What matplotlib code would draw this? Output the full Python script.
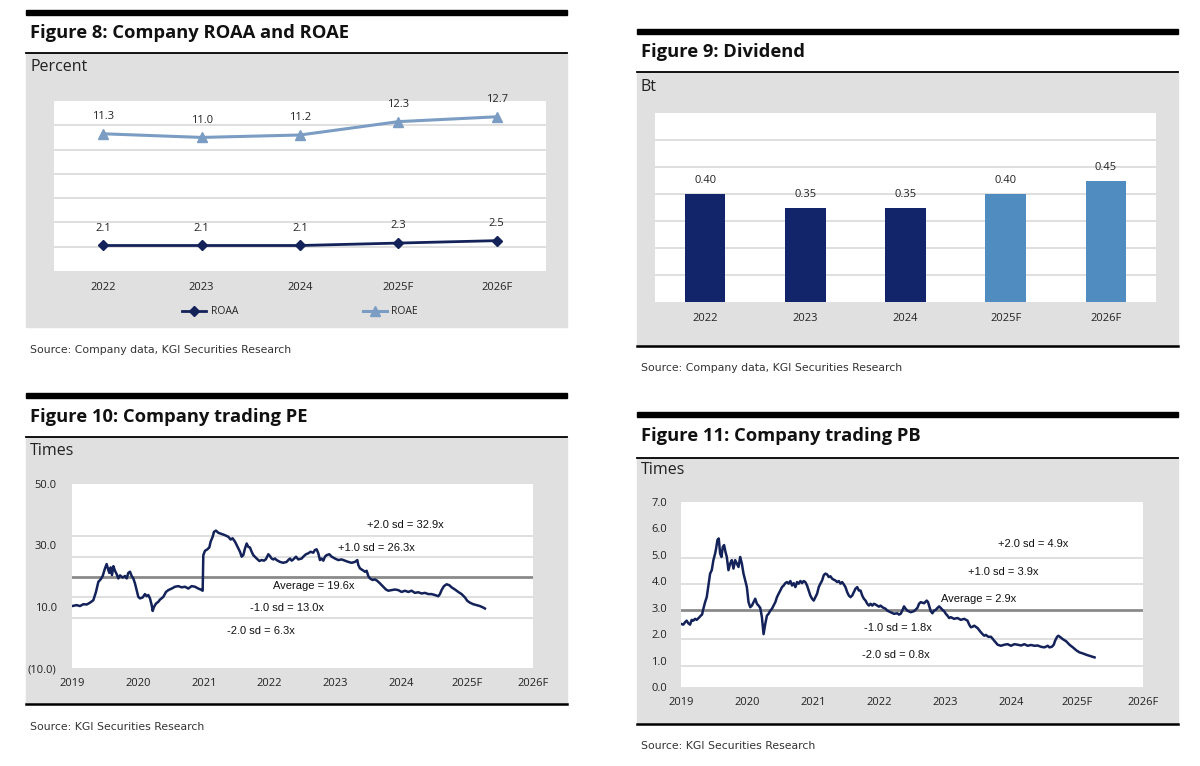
import matplotlib
matplotlib.use('Agg')
import matplotlib.pyplot as plt
from matplotlib.patches import Rectangle
from matplotlib.lines import Line2D
import numpy as np

# ---------------- data ----------------
roa_years = ['2022', '2023', '2024', '2025F', '2026F']
roaa = [2.1, 2.1, 2.1, 2.3, 2.5]
roae = [11.3, 11.0, 11.2, 12.3, 12.7]

div_years = ['2022', '2023', '2024', '2025F', '2026F']
dividend = [0.40, 0.35, 0.35, 0.40, 0.45]
div_is_forecast = [False, False, False, True, True]

band_ticks = [2019, 2020, 2021, 2022, 2023, 2024, 2025, 2026]
band_tick_labels = ['2019', '2020', '2021', '2022', '2023', '2024', '2025F', '2026F']

sd_names = ['+2.0 sd', '+1.0 sd', 'Average', '-1.0 sd', '-2.0 sd']
pe_sd_values = [32.9, 26.3, 19.6, 13.0, 6.3]
pb_sd_values = [4.9, 3.9, 2.9, 1.8, 0.8]

pe_ticks = [50, 30, 10, -10]
pe_tick_labels = ['50.0', '30.0', '10.0', '(10.0)']
pb_ticks = [0, 1, 2, 3, 4, 5, 6, 7]
pb_tick_labels = ['0.0', '1.0', '2.0', '3.0', '4.0', '5.0', '6.0', '7.0']

# PE band: years since start of 2019, trailing PE (x)
pe_t = [0.000, 0.071, 0.121, 0.172, 0.223, 0.273, 0.324, 0.364, 0.400, 0.435,
        0.466, 0.501, 0.526, 0.552, 0.567, 0.587, 0.607, 0.628, 0.653, 0.678,
        0.703, 0.729, 0.769, 0.805, 0.830, 0.855, 0.881, 0.906, 0.931, 0.956,
        0.982, 1.007, 1.032, 1.073, 1.108, 1.134, 1.159, 1.184, 1.210, 1.225,
        1.245, 1.275, 1.311, 1.336, 1.387, 1.427, 1.463, 1.513, 1.564, 1.614,
        1.665, 1.716, 1.766, 1.817, 1.867, 1.918, 1.953, 1.984, 1.994, 2.019,
        2.055, 2.085, 2.105, 2.136, 2.156, 2.186, 2.222, 2.272, 2.323, 2.373,
        2.409, 2.439, 2.475, 2.500, 2.525, 2.551, 2.576, 2.601, 2.627, 2.652,
        2.677, 2.702, 2.728, 2.753, 2.804, 2.844, 2.880, 2.915, 2.945, 2.981,
        3.006, 3.031, 3.057, 3.082,
        3.107, 3.158, 3.208, 3.259, 3.284, 3.310, 3.335, 3.360, 3.401, 3.436,
        3.487, 3.512, 3.553, 3.588, 3.623, 3.664, 3.689, 3.715, 3.740, 3.765,
        3.790, 3.816, 3.841, 3.866, 3.907, 3.942, 3.993, 4.043, 4.094, 4.145,
        4.195, 4.246, 4.297, 4.332, 4.347, 4.372, 4.413, 4.448, 4.474, 4.499,
        4.524, 4.565, 4.600, 4.636, 4.676, 4.727, 4.767, 4.803, 4.853, 4.904,
        4.954, 5.005, 5.056, 5.106, 5.157, 5.207, 5.258, 5.309, 5.359, 5.410,
        5.460, 5.511, 5.562, 5.587, 5.612, 5.648, 5.688, 5.729, 5.764, 5.815,
        5.865, 5.916, 5.967, 6.002, 6.043, 6.093, 6.144, 6.194, 6.245, 6.270]
pe_val = [10.2, 10.5, 10.2, 10.8, 10.7, 11.3, 12.1, 14.8, 18.1, 18.9,
          20.0, 22.5, 23.9, 21.9, 21.0, 22.8, 20.3, 23.2, 21.7, 20.6,
          19.2, 20.2, 19.5, 20.0, 19.2, 21.0, 21.4, 20.0, 19.2, 17.6,
          15.4, 13.2, 12.7, 13.0, 14.1, 13.4, 13.8, 12.7, 10.5, 8.6,
          9.9, 11.0, 11.6, 12.3, 13.2, 14.8, 15.4, 15.9, 16.5, 16.7,
          16.3, 16.5, 15.9, 16.7, 16.5, 15.9, 15.6, 15.2, 26.8, 28.2,
          28.7, 29.3, 31.2, 32.8, 34.4, 34.8, 34.1, 33.7, 33.3, 32.8,
          31.9, 32.3, 31.2, 30.1, 29.0, 27.9, 26.3, 26.8, 29.0, 30.6,
          29.5, 29.3, 27.9, 26.8, 25.7, 24.9, 25.2, 25.0, 25.5, 27.1,
          26.5, 25.7, 25.4, 25.7,
          25.2, 24.6, 24.3, 24.6, 25.2, 25.7, 25.0, 25.4, 26.3, 25.4,
          25.7, 26.3, 27.1, 27.4, 27.9, 27.6, 28.5, 28.7, 27.4, 25.2,
          25.7, 25.0, 26.3, 26.8, 27.1, 26.3, 25.7, 25.2, 25.4, 25.0,
          24.6, 24.3, 24.6, 25.2, 23.6, 22.5, 21.9, 21.4, 21.7, 20.0,
          19.2, 18.7, 18.9, 18.4, 17.6, 16.5, 15.6, 15.2, 15.4, 15.6,
          15.4, 14.8, 15.2, 14.8, 15.2, 14.5, 14.7, 14.3, 14.5, 14.1,
          14.1, 13.8, 13.4, 14.1, 15.4, 16.7, 17.3, 17.0, 16.3, 15.6,
          14.8, 14.1, 13.0, 11.9, 11.3, 10.8, 10.5, 10.2, 9.7, 9.4]

# PB band: years since start of 2019, PB (x)
pb_t = [0.000, 0.035, 0.061, 0.086, 0.111, 0.137, 0.162, 0.187, 0.213, 0.238,
        0.279, 0.299, 0.319, 0.339, 0.365, 0.390, 0.415, 0.441, 0.466, 0.491,
        0.517, 0.532, 0.552, 0.572, 0.593, 0.613, 0.633, 0.653, 0.674, 0.694,
        0.719, 0.745, 0.770, 0.795, 0.821, 0.846, 0.871, 0.897, 0.922, 0.947,
        0.973, 0.998, 1.023, 1.049, 1.074, 1.099, 1.125, 1.150, 1.175, 1.201,
        1.226, 1.251, 1.277, 1.302, 1.327, 1.353, 1.378, 1.403, 1.429, 1.454,
        1.479, 1.505, 1.530, 1.555, 1.581, 1.606, 1.631, 1.657, 1.682, 1.707,
        1.733, 1.758, 1.783, 1.809, 1.834, 1.859, 1.884, 1.910, 1.935, 1.960,
        1.986, 2.011, 2.036, 2.062, 2.087, 2.112, 2.138, 2.163, 2.188, 2.214,
        2.239, 2.264, 2.290, 2.315, 2.340, 2.366, 2.391, 2.416, 2.442, 2.467,
        2.492, 2.518, 2.543, 2.568, 2.594, 2.619, 2.644, 2.670, 2.695, 2.720,
        2.746, 2.771, 2.796, 2.822, 2.847, 2.872, 2.898, 2.923, 2.948, 2.974,
        2.999, 3.024, 3.050, 3.075, 3.100,
        3.125, 3.176, 3.227, 3.277, 3.303, 3.328, 3.353, 3.379, 3.404, 3.429,
        3.480, 3.531, 3.581, 3.607, 3.632, 3.683, 3.723, 3.743, 3.759, 3.784,
        3.809, 3.835, 3.860, 3.885, 3.911, 3.936, 3.961, 3.987, 4.012, 4.037,
        4.063, 4.088, 4.139, 4.189, 4.240, 4.291, 4.341, 4.367, 4.392, 4.417,
        4.443, 4.493, 4.544, 4.569, 4.595, 4.620, 4.655, 4.696, 4.747, 4.797,
        4.848, 4.898, 4.949, 5.000, 5.050, 5.101, 5.152, 5.202, 5.253, 5.304,
        5.354, 5.405, 5.456, 5.506, 5.557, 5.582, 5.618, 5.648, 5.668, 5.699,
        5.719, 5.749, 5.785, 5.836, 5.886, 5.937, 5.988, 6.038, 6.089, 6.140,
        6.190, 6.241, 6.266]
pb_val = [2.39, 2.36, 2.45, 2.51, 2.41, 2.36, 2.54, 2.51, 2.58, 2.54,
          2.64, 2.70, 2.74, 2.96, 3.21, 3.40, 3.84, 4.29, 4.42, 4.80,
          5.05, 5.24, 5.56, 5.62, 5.05, 4.92, 5.30, 5.37, 5.11, 4.92,
          4.42, 4.67, 4.80, 4.48, 4.80, 4.67, 4.54, 4.92, 4.67, 4.29,
          4.03, 3.78, 3.21, 3.02, 3.08, 3.21, 3.34, 3.15, 3.08, 2.99,
          2.64, 2.00, 2.39, 2.70, 2.77, 2.89, 2.96, 3.08, 3.21, 3.40,
          3.53, 3.65, 3.78, 3.84, 3.93, 3.97, 3.91, 4.01, 3.84, 3.93,
          3.78, 3.97, 3.91, 4.01, 3.93, 4.01, 3.97, 3.84, 3.65, 3.46,
          3.34, 3.27, 3.40, 3.53, 3.78, 3.91, 4.03, 4.23, 4.29, 4.26,
          4.16, 4.19, 4.10, 4.06, 4.03, 3.97, 4.01, 3.91, 3.97, 3.88,
          3.78, 3.59, 3.46, 3.40, 3.46, 3.59, 3.72, 3.78, 3.65, 3.65,
          3.46, 3.34, 3.27, 3.15, 3.08, 3.15, 3.08, 3.15, 3.12, 3.08,
          3.04, 3.08, 3.02, 2.99, 2.96,
          2.89, 2.83, 2.77, 2.79, 2.74, 2.77, 2.89, 3.05, 2.96, 2.89,
          2.83, 2.87, 2.99, 3.15, 3.21, 3.17, 3.27, 3.21, 3.08, 2.87,
          2.79, 2.89, 2.92, 2.99, 3.05, 2.99, 2.92, 2.87, 2.77, 2.70,
          2.61, 2.64, 2.58, 2.61, 2.54, 2.58, 2.51, 2.36, 2.26, 2.28,
          2.32, 2.23, 2.07, 2.00, 1.94, 1.97, 1.90, 1.90, 1.75, 1.60,
          1.56, 1.60, 1.62, 1.56, 1.62, 1.60, 1.57, 1.62, 1.56, 1.59,
          1.56, 1.57, 1.52, 1.50, 1.56, 1.50, 1.52, 1.60, 1.75, 1.90,
          1.94, 1.88, 1.81, 1.73, 1.60, 1.50, 1.39, 1.31, 1.27, 1.22,
          1.18, 1.14, 1.12]
band_start_year = 2019

# ---------------- style / layout ----------------
W, H = 1200, 766
C_PANEL = '#e0e0e0'
C_GRID = '#d9d9d9'
C_NAVY = '#14225a'
C_ROAE = '#7b9dc3'
C_BAR_A = '#13256a'
C_BAR_F = '#508cc0'
C_AVG = '#8a8a8a'
C_TEXT = '#222222'
TITLE_FONT = ['Open Sans', 'DejaVu Sans']
BODY_FONT = ['Open Sans', 'DejaVu Sans']
SOURCE_FONT = ['DejaVu Sans']
NARROW_FONT = ['Liberation Sans', 'DejaVu Sans']

plt.rcParams['font.family'] = BODY_FONT

fig = plt.figure(figsize=(W / 100, H / 100), dpi=100)
fig.patch.set_facecolor('white')


def fx(x):
    return x / W


def fy(y):
    return 1 - y / H


def axrect(x0, y0, x1, y1):
    return [x0 / W, 1 - y1 / H, (x1 - x0) / W, (y1 - y0) / H]


panels = [
    dict(x0=26, x1=567, bar=10, title_y=33, line_y=53, bottom=327, bline=False,
         unit='Percent', unit_y=67, src_y=350,
         title='Figure 8: Company ROAA and ROAE',
         src='Source: Company data, KGI Securities Research'),
    dict(x0=637, x1=1178, bar=29, title_y=52, line_y=72, bottom=346, bline=True,
         unit='Bt', unit_y=87, src_y=368,
         title='Figure 9: Dividend',
         src='Source: Company data, KGI Securities Research'),
    dict(x0=26, x1=567, bar=393, title_y=417, line_y=437, bottom=704, bline=True,
         unit='Times', unit_y=451, src_y=727,
         title='Figure 10: Company trading PE',
         src='Source: KGI Securities Research'),
    dict(x0=637, x1=1178, bar=412, title_y=436, line_y=458, bottom=724, bline=True,
         unit='Times', unit_y=470, src_y=746,
         title='Figure 11: Company trading PB',
         src='Source: KGI Securities Research'),
]

for p in panels:
    x0, x1 = p['x0'], p['x1']
    fig.patches.append(Rectangle((fx(x0), fy(p['bar'] + 5)), (x1 - x0) / W, 5 / H,
                                 transform=fig.transFigure, color='black', zorder=-5))
    fig.patches.append(Rectangle((fx(x0), fy(p['bottom'])), (x1 - x0) / W,
                                 (p['bottom'] - p['line_y']) / H,
                                 transform=fig.transFigure, color=C_PANEL, zorder=-10))
    fig.lines.append(Line2D([fx(x0), fx(x1)], [fy(p['line_y'])] * 2,
                            transform=fig.transFigure, color='black', lw=1.3, zorder=-4))
    if p['bline']:
        fig.lines.append(Line2D([fx(x0), fx(x1)], [fy(p['bottom'])] * 2,
                                transform=fig.transFigure, color='black', lw=1.8, zorder=-4))
    fig.text(fx(x0 + 4), fy(p['title_y']), p['title'], fontsize=13.2, fontweight='bold',
             family=TITLE_FONT, color='#111111', va='center', ha='left')
    fig.text(fx(x0 + 4), fy(p['unit_y']), p['unit'], fontsize=11.5, color=C_TEXT,
             va='center', ha='left')
    fig.text(fx(x0 + 4), fy(p['src_y']), p['src'], fontsize=7.8, color='#333333',
             family=SOURCE_FONT, va='center', ha='left')


def clean(ax):
    ax.set_facecolor('white')
    for s in ax.spines.values():
        s.set_visible(False)
    ax.set_axisbelow(True)


# ---------------- Figure 8 ----------------
ax1 = fig.add_axes(axrect(54, 101, 546, 271))
clean(ax1)
xc = np.arange(len(roa_years))
ax1.set_xlim(-0.5, len(roa_years) - 0.5)
ax1.set_ylim(0, 14)
ax1.set_yticks(np.arange(2, 14, 2))
ax1.yaxis.grid(True, color=C_GRID, lw=1.2)
ax1.tick_params(axis='y', left=False, labelleft=False)
ax1.set_xticks(xc, roa_years)
ax1.tick_params(axis='x', length=0, pad=8, labelsize=8, labelcolor=C_TEXT)
l1, = ax1.plot(xc, roaa, color=C_NAVY, lw=2, marker='D', ms=5, label='ROAA')
l2, = ax1.plot(xc, roae, color=C_ROAE, lw=2.2, marker='^', ms=7, label='ROAE')
for xi, v in zip(xc, roaa):
    ax1.annotate(f'{v:.1f}', (xi, v), xytext=(0, 12.5), textcoords='offset points',
                 ha='center', va='center', fontsize=8, color=C_TEXT)
for xi, v in zip(xc, roae):
    ax1.annotate(f'{v:.1f}', (xi, v), xytext=(0, 12.5), textcoords='offset points',
                 ha='center', va='center', fontsize=8, color=C_TEXT)
fig.legend(handles=[l1, l2], loc='center', bbox_to_anchor=(fx(300), fy(312)),
           ncol=2, frameon=False, fontsize=7.5, handlelength=2.3, handletextpad=0.4,
           columnspacing=12, labelcolor=C_TEXT)

# ---------------- Figure 9 ----------------
ax2 = fig.add_axes(axrect(655, 113, 1156, 302))
clean(ax2)
xd = np.arange(len(div_years))
ax2.set_xlim(-0.5, len(div_years) - 0.5)
ax2.set_ylim(0, 0.7)
ax2.set_yticks(np.arange(0.1, 0.7, 0.1))
ax2.yaxis.grid(True, color=C_GRID, lw=1.2)
ax2.tick_params(axis='y', left=False, labelleft=False)
ax2.set_xticks(xd, div_years)
ax2.tick_params(axis='x', length=0, pad=8, labelsize=8, labelcolor=C_TEXT)
bar_colors = [C_BAR_F if f else C_BAR_A for f in div_is_forecast]
ax2.bar(xd, dividend, width=0.405, color=bar_colors, zorder=3)
for xi, v in zip(xd, dividend):
    ax2.annotate(f'{v:.2f}', (xi, v), xytext=(0, 9.5), textcoords='offset points',
                 ha='center', va='center', fontsize=8, color=C_TEXT)


# ---------------- band charts ----------------
def band(ax, t, vals, sd_vals, ticks, tick_labels, ylim, label_pos, ypad):
    clean(ax)
    yrs = band_start_year + np.array(t)
    ax.set_xlim(band_ticks[0], band_ticks[-1])
    ax.set_ylim(*ylim)
    ax.set_xticks(band_ticks, band_tick_labels)
    ax.set_yticks(ticks, tick_labels)
    ax.tick_params(axis='both', length=0, labelsize=8, labelcolor=C_TEXT)
    ax.tick_params(axis='x', pad=7.5)
    ax.tick_params(axis='y', pad=ypad)
    for name, v, (lx, off) in zip(sd_names, sd_vals, label_pos):
        if name == 'Average':
            ax.axhline(v, color=C_AVG, lw=2, zorder=2)
        else:
            ax.axhline(v, color=C_GRID, lw=1.2, zorder=1)
        ax.annotate(f'{name} = {v:.1f}x', (lx, v), xytext=(0, off),
                    textcoords='offset points', ha='center', va='center',
                    fontsize=8, family=NARROW_FONT, color='#111111', zorder=4)
    ax.plot(yrs, vals, color=C_NAVY, lw=1.8, zorder=3)


ax3 = fig.add_axes(axrect(72, 484, 533, 668))
band(ax3, pe_t, pe_val, pe_sd_values, pe_ticks, pe_tick_labels, (-10, 50),
     [(2024.06, 8), (2023.62, 6.5), (2022.67, -6.5), (2022.26, -7.3), (2021.87, -9)], 11)

ax4 = fig.add_axes(axrect(681, 502, 1143, 687))
band(ax4, pb_t, pb_val, pb_sd_values, pb_ticks, pb_tick_labels, (0, 7),
     [(2024.33, 9.5), (2023.89, 8.5), (2023.51, 8.5), (2022.28, 8), (2022.25, 8)], 10)

fig.savefig('out.png', dpi=100, facecolor='white')
